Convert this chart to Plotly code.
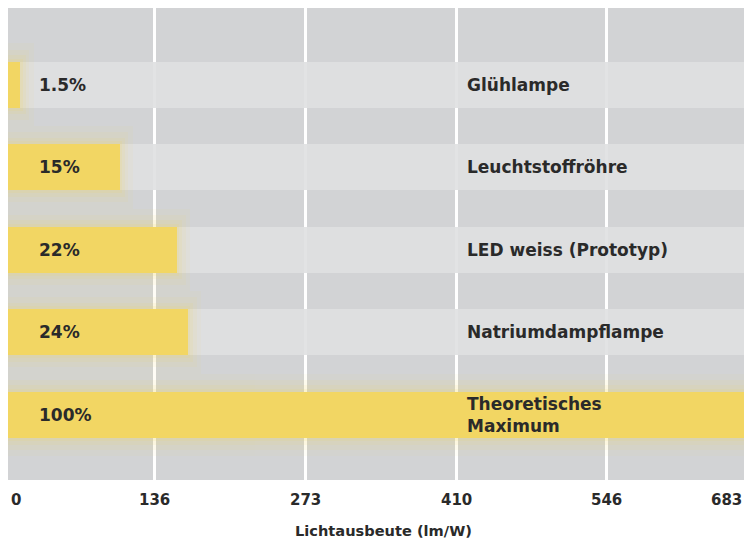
import plotly.graph_objects as go

categories = ["Glühlampe", "Leuchtstoffröhre", "LED weiss (Prototyp)", "Natriumdampflampe", "Theoretisches<br>Maximum"]
percent_labels = ["1.5%", "15%", "22%", "24%", "100%"]
efficacy = [14, 104, 156, 166, 683]   # lm/W
max_value = 683
tick_values = [0, 136, 273, 410, 546, 683]
tick_labels = ["0", "136", "273", "410", "546", "683"]
x_title = "Lichtausbeute (lm/W)"

FONT = "DejaVu Sans"
TXT = "#2a2a2a"
YELLOW = "#f2d663"
ypos = list(range(len(categories)))

fig = go.Figure()
# light background bands
fig.add_trace(go.Bar(
    x=[max_value] * len(categories), y=ypos, orientation="h", width=0.56,
    marker=dict(color="#e0e1e2", line=dict(width=0)), opacity=0.92,
    hoverinfo="skip", showlegend=False))
# soft glow around the yellow bars (stacked translucent layers)
for w, extra, op in [(1.0, 12, 0.05), (0.85, 8, 0.07), (0.72, 5, 0.09), (0.63, 2, 0.12)]:
    fig.add_trace(go.Bar(
        x=[v + extra for v in efficacy], y=ypos, orientation="h", width=w,
        marker=dict(color=YELLOW, line=dict(width=0)), opacity=op,
        hoverinfo="skip", showlegend=False))
# yellow value bars
fig.add_trace(go.Bar(
    x=efficacy, y=ypos, orientation="h", width=0.56,
    marker=dict(color=YELLOW, line=dict(width=0)),
    showlegend=False))

annotations = []
for i, (p, c) in enumerate(zip(percent_labels, categories)):
    annotations.append(dict(x=29, y=i, xref="x", yref="y", text=p, showarrow=False,
                            xanchor="left", yanchor="middle", align="left",
                            font=dict(family=FONT, size=17, color=TXT, weight="bold")))
    annotations.append(dict(x=417, y=i, xref="x", yref="y", text=c, showarrow=False,
                            xanchor="left", yanchor="middle", align="left",
                            font=dict(family=FONT, size=17, color=TXT, weight="bold")))
n = len(tick_values)
for k, (tv, tl) in enumerate(zip(tick_values, tick_labels)):
    if k == 0:
        a = dict(x=0, xref="paper", xanchor="left", xshift=1)
    elif k == n - 1:
        a = dict(x=1, xref="paper", xanchor="right")
    else:
        a = dict(x=tv, xref="x", xanchor="center")
    a.update(y=-0.042, yref="paper", text=tl, showarrow=False, yanchor="middle",
             font=dict(family=FONT, size=15, color=TXT, weight="bold"))
    annotations.append(a)
annotations.append(dict(x=0.5, y=-0.106, xref="paper", yref="paper", text=x_title, showarrow=False,
                        xanchor="center", yanchor="middle", xshift=7,
                        font=dict(family=FONT, size=14.6, color=TXT, weight="bold")))

fig.update_layout(
    width=736, height=537,
    margin=dict(l=0, r=0, t=0, b=65),
    paper_bgcolor="white", plot_bgcolor="#d2d3d5",
    barmode="overlay", bargap=0,
    annotations=annotations,
    xaxis=dict(range=[2.7, 670.6], tickvals=tick_values[1:-1], showticklabels=False,
               showgrid=True, gridcolor="white", gridwidth=3, zeroline=False,
               showline=False, fixedrange=True),
    yaxis=dict(range=[4.79, -0.93], showticklabels=False, showgrid=False,
               zeroline=False, showline=False, fixedrange=True),
)
fig.write_html("out.html")
